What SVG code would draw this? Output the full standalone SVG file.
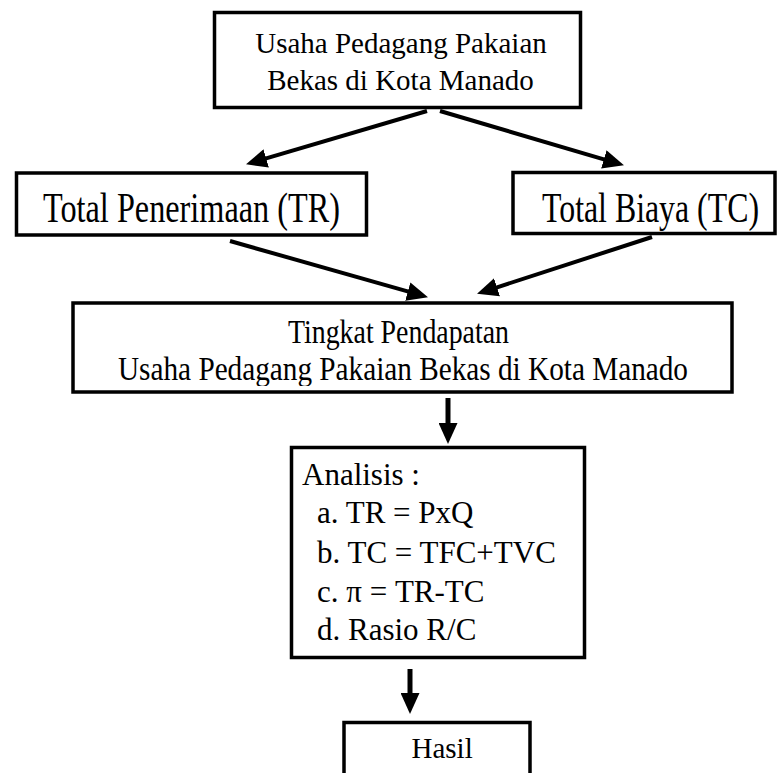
<svg xmlns="http://www.w3.org/2000/svg" width="779" height="773" viewBox="0 0 779 773">
<style>
  .box { fill: #fff; stroke: #000; stroke-width: 3.5; }
  .t { font-family: "Liberation Serif", "Times New Roman", serif; fill: #000; }
  .s29 { font-size: 29px; }
  .s31 { font-size: 31px; }
  .s34 { font-size: 34px; }
  .s43 { font-size: 43px; }
  .mid { text-anchor: middle; }
  .conn { stroke: #000; stroke-width: 4; fill: none; marker-end: url(#ah); }
  .vconn { stroke: #000; stroke-width: 5; fill: none; marker-end: url(#ah); }
</style>
<defs>
  <marker id="ah" markerUnits="userSpaceOnUse" markerWidth="21" markerHeight="19" refX="8" refY="9.5" orient="auto">
    <path d="M0,0 L21,9.5 L0,19 z" fill="#000"/>
  </marker>
  <clipPath id="midclip"><rect x="73" y="304" width="658" height="82"/></clipPath>
</defs>
<rect width="779" height="773" fill="#fff"/>

<g id="connectors">
  <line class="conn" x1="427" y1="111" x2="258.5" y2="160.6"/>
  <line class="conn" x1="440" y1="111" x2="611.5" y2="161.6"/>
  <line class="conn" x1="230" y1="241" x2="415.5" y2="293.7"/>
  <line class="conn" x1="652" y1="237" x2="489.4" y2="289.8"/>
  <line class="vconn" x1="448" y1="398" x2="448" y2="431"/>
  <line class="vconn" x1="410" y1="669" x2="410" y2="701"/>
</g>

<g id="node-usaha">
  <rect class="box" x="214.5" y="12.5" width="366" height="95"/>
  <text class="t s29 mid" x="401" y="53">Usaha Pedagang Pakaian</text>
  <text class="t s29 mid" x="400.5" y="90">Bekas di Kota Manado</text>
</g>

<g id="node-tr">
  <rect class="box" x="16.5" y="173" width="350" height="62"/>
  <text class="t s43" x="43" y="222" textLength="297" lengthAdjust="spacingAndGlyphs">Total Penerimaan (TR)</text>
</g>

<g id="node-tc">
  <rect class="box" x="513" y="172.5" width="262" height="61"/>
  <text class="t s43" x="542" y="222" textLength="217" lengthAdjust="spacingAndGlyphs">Total Biaya (TC)</text>
</g>

<g id="node-pendapatan">
  <rect class="box" x="73" y="303" width="659" height="89"/>
  <g clip-path="url(#midclip)">
    <text class="t s34" x="288" y="343" textLength="221" lengthAdjust="spacingAndGlyphs">Tingkat Pendapatan</text>
    <text class="t s34" x="118" y="380" textLength="570" lengthAdjust="spacingAndGlyphs">Usaha Pedagang Pakaian Bekas di Kota Manado</text>
  </g>
</g>

<g id="node-analisis">
  <rect class="box" x="291.5" y="447.5" width="293" height="210"/>
  <text class="t s31" x="302" y="485">Analisis :</text>
  <text class="t s31" x="317" y="523">a. TR = PxQ</text>
  <text class="t s31" x="317" y="563">b. TC = TFC+TVC</text>
  <text class="t s31" x="317" y="601.5">c. π = TR-TC</text>
  <text class="t s31" x="317" y="640">d. Rasio R/C</text>
</g>

<g id="node-hasil">
  <rect class="box" x="344" y="722.5" width="186" height="70"/>
  <text class="t s29" x="411.5" y="758">Hasil</text>
</g>
</svg>
